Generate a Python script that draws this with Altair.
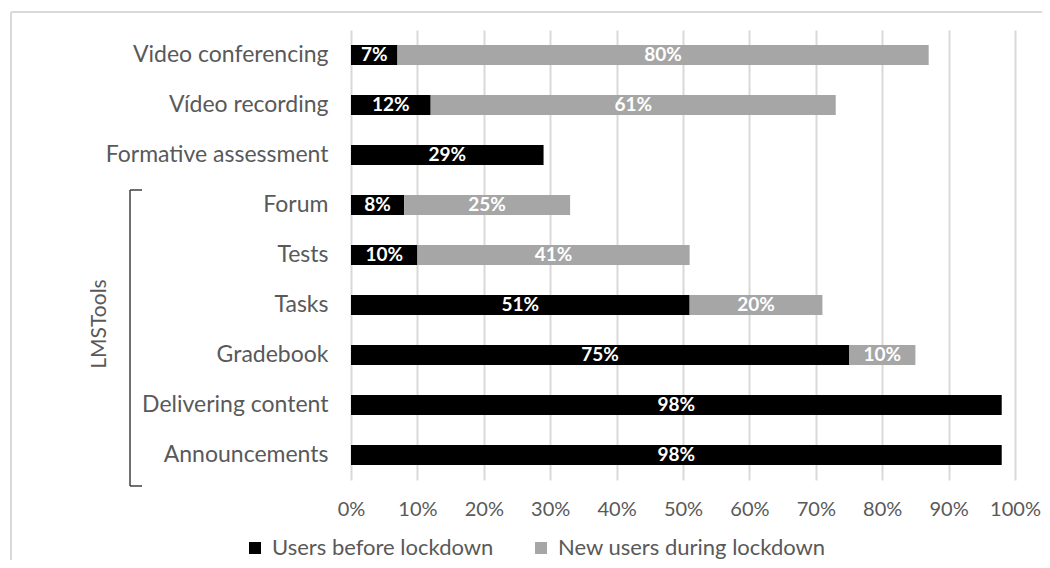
import altair as alt
import pandas as pd

categories = ["Video conferencing", "Vídeo recording", "Formative assessment", "Forum",
              "Tests", "Tasks", "Gradebook", "Delivering content", "Announcements"]
before = [7, 12, 29, 8, 10, 51, 75, 98, 98]
new = [80, 61, 0, 25, 41, 20, 10, 0, 0]
series = ["Users before lockdown", "New users during lockdown"]
colors = ["#000000", "#a6a6a6"]
x_ticks = [0, 10, 20, 30, 40, 50, 60, 70, 80, 90, 100]
group_label = "LMSTools"

rows = []
for c, b, n in zip(categories, before, new):
    rows.append({"cat": c, "series": series[0], "value": b, "start": 0, "end": b})
    rows.append({"cat": c, "series": series[1], "value": n, "start": b, "end": b + n})
df = pd.DataFrame(rows)
df["mid"] = (df["start"] + df["end"]) / 2
df["label"] = df["value"].astype(str) + "%"

FONT = "Lato"
LEFT = 343  # left padding; plot origin at page x = 8 + LEFT
W = 664
OX = 8 + LEFT
OY = 30

xscale = alt.Scale(domain=[0, 100], nice=False)
yscale = alt.Scale(domain=categories, paddingInner=0.6, paddingOuter=0.3)

base = alt.Chart(df)

bars = base.mark_bar().encode(
    y=alt.Y("cat:N", scale=yscale, sort=categories, title=None),
    x=alt.X("start:Q", scale=xscale, title=None,
            axis=alt.Axis(values=x_ticks, labelExpr="datum.value + '%'")),
    x2="end:Q",
    color=alt.Color("series:N", scale=alt.Scale(domain=series, range=colors),
                    legend=alt.Legend(title=None, orient="none", direction="horizontal",
                                      legendX=248 - OX - 4, legendY=507, symbolType="square",
                                      symbolSize=144, symbolStrokeWidth=0,
                                      labelFontSize=22, labelColor="#595959", labelFont=FONT,
                                      labelOffset=6, columnPadding=36, labelLimit=400)),
    order=alt.Order("start:Q"),
)

labels = base.transform_filter("datum.value > 0").mark_text(
    color="white", font=FONT, fontWeight="bold", fontSize=19, baseline="middle"
).encode(
    y=alt.Y("cat:N", scale=yscale, sort=categories),
    x=alt.X("mid:Q", scale=xscale),
    text="label:N",
)

one = pd.DataFrame({"a": [0]})
bx = 130 - OX
bracket_v = alt.Chart(one).mark_rule(color="#404040", strokeWidth=1.5).encode(
    x=alt.value(bx), y=alt.value(190 - OY), y2=alt.value(486 - OY))
bracket_t = alt.Chart(one).mark_rule(color="#404040", strokeWidth=1.5).encode(
    x=alt.value(bx), x2=alt.value(bx + 12), y=alt.value(190 - OY))
bracket_b = alt.Chart(one).mark_rule(color="#404040", strokeWidth=1.5).encode(
    x=alt.value(bx), x2=alt.value(bx + 12), y=alt.value(486 - OY))
group_text = alt.Chart(pd.DataFrame({"t": [group_label]})).mark_text(
    angle=270, font=FONT, fontSize=21, color="#595959", baseline="middle", align="center"
).encode(x=alt.value(100 - OX), y=alt.value(324 - OY), text="t:N")

border_l = alt.Chart(one).mark_rule(color="#d9d9d9", strokeWidth=2).encode(
    x=alt.value(11 - OX), y=alt.value(12 - OY), y2=alt.value(580 - OY))
border_t = alt.Chart(one).mark_rule(color="#d9d9d9", strokeWidth=2).encode(
    x=alt.value(11 - OX), x2=alt.value(1060 - OX), y=alt.value(12 - OY))

chart = alt.layer(border_l, border_t, bars, labels, bracket_v, bracket_t, bracket_b, group_text).properties(
    width=W, height=450,
    autosize=alt.AutoSizeParams(type="none"),
    padding={"left": LEFT, "top": 22, "right": 1034 - LEFT - W, "bottom": 80},
).configure_view(stroke=None).configure_axisY(
    labelFontSize=23, labelColor="#595959", labelFont=FONT, ticks=False, domain=False,
    labelPadding=23, grid=False, labelLimit=400
).configure_axisX(
    labelFontSize=20, labelColor="#595959", labelFont=FONT, ticks=False, domain=False,
    labelPadding=19, grid=True, gridColor="#d9d9d9", gridWidth=2,
    labelOverlap=False, labelFlush=False
)

chart.save("out.html", embed_options={"renderer": "svg", "actions": False})
